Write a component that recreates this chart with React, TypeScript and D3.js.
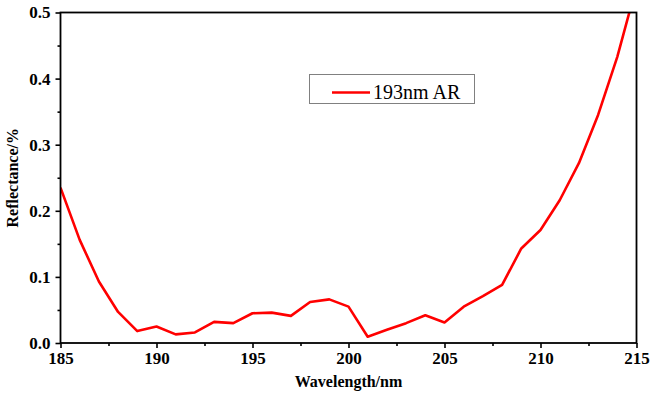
import { axisBottom, axisLeft, line, scaleLinear, select } from 'd3';
import { useEffect, useRef } from 'react';

const wavelengths = [
  185, 186, 187, 188, 189, 190, 191, 192, 193, 194, 195, 196, 197, 198, 199, 200,
  201, 202, 203, 204, 205, 206, 207, 208, 209, 210, 211, 212, 213, 214, 215,
];
const reflectance = [
  0.235, 0.156, 0.093, 0.047, 0.018, 0.025, 0.013, 0.016, 0.032, 0.03, 0.045, 0.046,
  0.041, 0.062, 0.066, 0.055, 0.0095, 0.02, 0.03, 0.042, 0.031, 0.055, 0.071, 0.088,
  0.143, 0.171, 0.216, 0.272, 0.345, 0.433, 0.54,
];
const xTicks = [185, 190, 195, 200, 205, 210, 215];
const xMinor = [187.5, 192.5, 197.5, 202.5, 207.5, 212.5];
const yTicks = [0, 0.1, 0.2, 0.3, 0.4, 0.5];
const yMinor = [0.05, 0.15, 0.25, 0.35, 0.45];
const seriesName = '193nm AR';

const FONT = '"Liberation Serif", "Times New Roman", serif';

export default function App() {
  const width = 651;
  const height = 393;
  const margin = { top: 12.5, right: 14.5, bottom: 50, left: 60.5 };
  const gx = useRef<SVGGElement>(null);
  const gy = useRef<SVGGElement>(null);
  const gxm = useRef<SVGGElement>(null);
  const gym = useRef<SVGGElement>(null);

  const x = scaleLinear()
    .domain([185, 215])
    .range([margin.left, width - margin.right]);
  const y = scaleLinear()
    .domain([0, 0.5])
    .range([height - margin.bottom, margin.top]);

  const data = wavelengths.map((w, i) => ({ w, r: reflectance[i] }));
  const path = line<{ w: number; r: number }>()
    .x((d) => x(d.w))
    .y((d) => y(d.r))(data);

  useEffect(() => {
    const styleAxis = (g: any) => {
      g.select('.domain').remove();
      g.selectAll('line').attr('stroke', '#000').attr('stroke-width', 1.6);
      g.selectAll('text')
        .attr('fill', '#000')
        .attr('font-family', FONT)
        .attr('font-weight', 'bold')
        .attr('font-size', 17);
    };
    select(gx.current)
      .call(axisBottom(x).tickValues(xTicks).tickFormat((d: any) => String(d)).tickSize(5).tickPadding(4) as any)
      .call(styleAxis);
    select(gxm.current)
      .call(axisBottom(x).tickValues(xMinor).tickFormat(() => '').tickSize(3) as any)
      .call(styleAxis);
    select(gy.current)
      .call(axisLeft(y).tickValues(yTicks).tickFormat((d: any) => (+d).toFixed(1)).tickSize(5).tickPadding(5) as any)
      .call(styleAxis);
    select(gym.current)
      .call(axisLeft(y).tickValues(yMinor).tickFormat(() => '').tickSize(3) as any)
      .call(styleAxis);
  }, []);

  const x0 = margin.left;
  const x1 = width - margin.right;
  const y0 = height - margin.bottom;
  const y1 = margin.top;

  return (
    <svg
      width={width}
      height={height}
      style={{ position: 'absolute', left: 0, top: 0, background: '#fff' }}>
      <defs>
        <clipPath id='plot'>
          <rect x={x0} y={y1} width={x1 - x0} height={y0 - y1} />
        </clipPath>
      </defs>
      <path
        d={path ?? ''}
        fill='none'
        stroke='#ff0000'
        strokeWidth={2.6}
        strokeLinejoin='round'
        clipPath='url(#plot)'
      />
      <rect x={x0} y={y1} width={x1 - x0} height={y0 - y1} fill='none' stroke='#000' strokeWidth={1.8} />
      <g ref={gx} transform={`translate(0, ${y0})`}></g>
      <g ref={gxm} transform={`translate(0, ${y0})`}></g>
      <g ref={gy} transform={`translate(${x0}, 0)`}></g>
      <g ref={gym} transform={`translate(${x0}, 0)`}></g>
      <text
        x={(x0 + x1) / 2}
        y={387}
        textAnchor='middle'
        fontFamily={FONT}
        fontWeight='bold'
        fontSize={16}>
        Wavelength/nm
      </text>
      <text
        transform={`translate(18, ${(y0 + y1) / 2}) rotate(-90)`}
        textAnchor='middle'
        fontFamily={FONT}
        fontWeight='bold'
        fontSize={16}>
        Reflectance/%
      </text>
      <g>
        <rect x={309.5} y={74.5} width={165} height={29} fill='#fff' stroke='#808080' strokeWidth={1} />
        <line x1={332} x2={370} y1={92.5} y2={92.5} stroke='#ff0000' strokeWidth={2.6} />
        <text x={373} y={99} fontFamily={FONT} fontSize={20}>
          {seriesName}
        </text>
      </g>
    </svg>
  );
}
